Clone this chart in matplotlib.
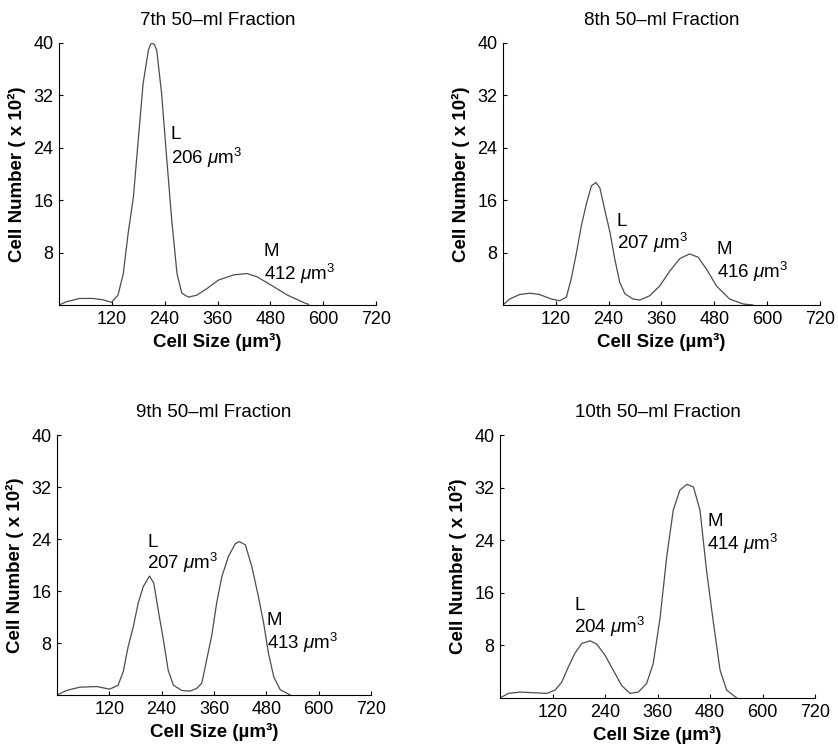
import matplotlib
matplotlib.use('Agg')
import matplotlib.pyplot as plt

plt.rcParams['font.family'] = ['Liberation Sans', 'DejaVu Sans']
plt.rcParams['mathtext.fontset'] = 'custom'
plt.rcParams['mathtext.rm'] = 'Liberation Sans'
plt.rcParams['mathtext.it'] = 'Liberation Sans:italic'

# 7th fraction
size_7 = [0, 17, 47, 77, 100, 119, 134, 146, 157, 169, 180, 191, 203, 208, 212, 217, 222, 233, 245, 256,
          268, 279, 294, 313, 336, 362, 397, 427, 450, 480, 519, 560, 567]
count_7 = [0, 0.5, 1.0, 1.0, 0.8, 0.4, 1.5, 4.8, 10.9, 16.5, 25.2, 33.8, 38.9, 39.8, 40.0, 39.7, 38.9, 32.3,
           22.1, 13.0, 4.8, 1.8, 1.2, 1.5, 2.5, 3.8, 4.6, 4.8, 4.3, 3.1, 1.5, 0.25, 0.1]

# 8th fraction
size_8 = [0, 15, 38, 61, 83, 110, 129, 144, 155, 167, 178, 190, 201, 211, 220, 231, 243, 254, 265,
          277, 296, 311, 333, 356, 379, 402, 424, 443, 462, 485, 515, 546, 568]
count_8 = [0, 0.9, 1.6, 1.8, 1.6, 0.9, 0.65, 1.2, 4.0, 8.0, 12.1, 15.6, 18.2, 18.7, 17.9, 14.6,
           11.1, 7.0, 3.5, 1.7, 0.9, 0.76, 1.4, 2.9, 5.2, 7.1, 7.8, 7.3, 5.5, 2.9, 0.9, 0.15, 0]

# 9th fraction
size_9 = [0, 22, 52, 91, 121, 140, 152, 163, 175, 186, 198, 212, 222, 232, 244, 255, 267, 286, 305,
          320, 332, 355, 366, 378, 393, 409, 418, 432, 447, 462, 474, 485, 497, 512, 535]
count_9 = [0, 0.7, 1.2, 1.3, 0.9, 1.5, 3.6, 7.4, 10.5, 14.1, 16.7, 18.3, 17.2, 13.1, 8.5, 3.8,
           1.5, 0.7, 0.6, 1.0, 1.8, 9.2, 14.1, 18.2, 21.3, 23.3, 23.6, 23.1, 19.7, 15.1, 11.0,
           6.4, 2.8, 0.8, 0]

# 10th fraction
size_10 = [0, 19, 46, 76, 107, 126, 141, 156, 171, 187, 206, 221, 240, 259, 278, 297, 316, 335,
           350, 366, 381, 396, 411, 427, 442, 457, 472, 488, 503, 518, 541]
count_10 = [0, 0.7, 0.9, 0.8, 0.7, 1.2, 2.4, 4.7, 6.8, 8.3, 8.7, 8.2, 6.5, 4.2, 1.9, 0.7, 0.9,
            2.2, 5.2, 12.3, 21.5, 28.6, 31.6, 32.5, 32.1, 28.6, 19.4, 11.3, 4.2, 1.2, 0]

titles = ['7th 50\u2013ml Fraction', '8th 50\u2013ml Fraction',
          '9th 50\u2013ml Fraction', '10th 50\u2013ml Fraction']
peak_labels = [
    [('L', 206, 254, 26.0, 22.5), ('M', 412, 465, 8.1, 4.7)],
    [('L', 207, 258, 12.8, 9.5), ('M', 416, 485, 8.5, 5.0)],
    [('L', 207, 207, 23.5, 20.3), ('M', 413, 481, 11.5, 8.0)],
    [('L', 204, 170, 14.1, 10.8), ('M', 414, 474, 26.8, 23.5)],
]

sizes = [size_7, size_8, size_9, size_10]
counts = [count_7, count_8, count_9, count_10]

boxes = [[0.0704, 0.5928, 0.3783, 0.3498],
         [0.6002, 0.5928, 0.3783, 0.3498],
         [0.0680, 0.0721, 0.3747, 0.3471],
         [0.5967, 0.0681, 0.3759, 0.3511]]

fig = plt.figure(figsize=(8.38, 7.49), dpi=100)

for i in range(4):
    ax = fig.add_axes(boxes[i])
    ax.plot(sizes[i], counts[i], color='0.3', lw=0.9)
    ax.set_xlim(0, 720)
    ax.set_ylim(0, 40)
    ax.set_xticks([120, 240, 360, 480, 600, 720])
    ax.set_yticks([8, 16, 24, 32, 40])
    ax.spines['top'].set_visible(False)
    ax.spines['right'].set_visible(False)
    ax.tick_params(direction='in', length=3, labelsize=13, pad=4)
    ax.set_title(titles[i], fontsize=13.5, pad=13)
    ax.set_xlabel('Cell Size (\u00b5m\u00b3)', fontsize=13.5, fontweight='bold', labelpad=4)
    ax.set_ylabel('Cell Number ( x 10\u00b2)', fontsize=13.5, fontweight='bold', labelpad=5)
    for name, vol, tx, ty1, ty2 in peak_labels[i]:
        ax.text(tx, ty1, name, fontsize=13.5, va='center', ha='left')
        ax.text(tx, ty2, str(vol) + r' $\mu$m$^3$', fontsize=13.5, va='center', ha='left')

fig.savefig('out.png', dpi=100)
